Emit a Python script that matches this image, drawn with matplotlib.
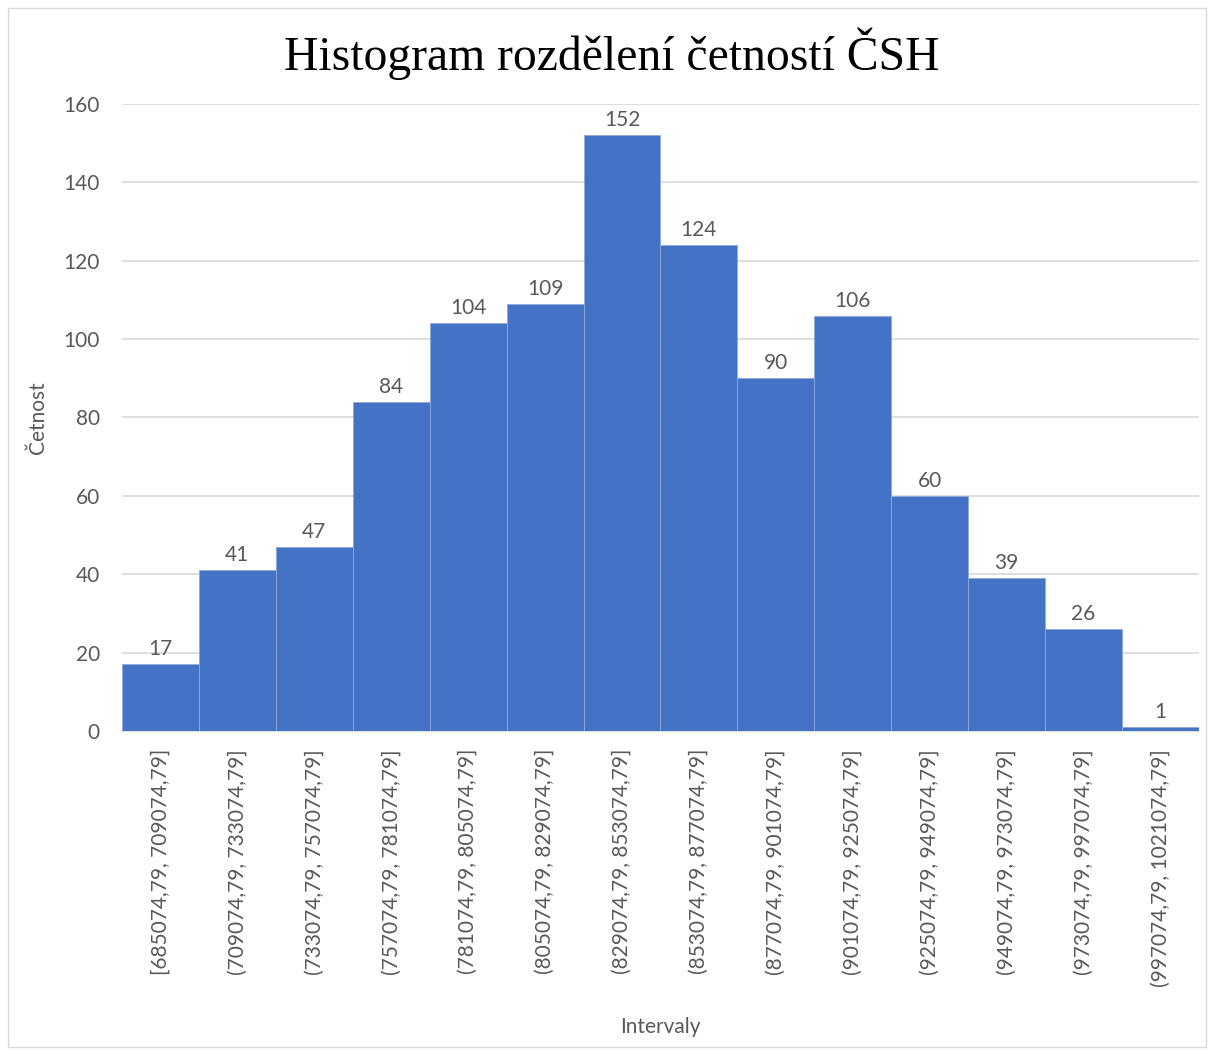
import matplotlib.pyplot as plt
from matplotlib.patches import Rectangle

# histogram bins and counts
intervals = [
    "[685074,79, 709074,79]", "(709074,79, 733074,79]", "(733074,79, 757074,79]",
    "(757074,79, 781074,79]", "(781074,79, 805074,79]", "(805074,79, 829074,79]",
    "(829074,79, 853074,79]", "(853074,79, 877074,79]", "(877074,79, 901074,79]",
    "(901074,79, 925074,79]", "(925074,79, 949074,79]", "(949074,79, 973074,79]",
    "(973074,79, 997074,79]", "(997074,79, 1021074,79]",
]
counts = [17, 41, 47, 84, 104, 109, 152, 124, 90, 106, 60, 39, 26, 1]
yticks = [0, 20, 40, 60, 80, 100, 120, 140, 160]

text_color = "#595959"
plt.rcParams['font.family'] = ['Lato', 'DejaVu Sans']

fig = plt.figure(figsize=(12.14, 10.54), dpi=100)
fig.patches.append(Rectangle((0.007, 0.007), 0.986, 0.985, transform=fig.transFigure,
                             fill=False, edgecolor="#D9D9D9", linewidth=1))

ax = fig.add_axes([0.1005, 0.3065, 0.8871, 0.5948])
x = range(len(counts))
bars = ax.bar(x, counts, width=1.0, color="#4472C4", edgecolor="#8EA9DB", linewidth=0.6, zorder=3)

for xi, c in zip(x, counts):
    ax.text(xi, c + 1.3, str(c), ha="center", va="bottom", fontsize=15, color=text_color)

ax.set_xlim(-0.5, len(counts) - 0.5)
ax.set_ylim(0, 160)
ax.set_yticks(yticks)
ax.yaxis.grid(True, color="#D9D9D9", linewidth=1.2, zorder=0)
ax.set_axisbelow(True)
for s in ["top", "right", "left"]:
    ax.spines[s].set_visible(False)
ax.spines["bottom"].set_color("#D9D9D9")
ax.spines["bottom"].set_linewidth(1.2)
ax.tick_params(axis="both", length=0, labelsize=15, labelcolor=text_color)
ax.tick_params(axis="y", pad=16)
ax.set_xticks(list(x))
ax.set_xticklabels(intervals, rotation=90, va="top", ha="center")
ax.tick_params(axis="x", pad=13)

ax.set_ylabel("Četnost", fontsize=15, color=text_color, labelpad=11)
ax.set_xlabel("Intervaly", fontsize=15, color=text_color, labelpad=22)

fig.text(0.504, 0.949, "Histogram rozdělení četností ČSH", ha="center", va="center",
         fontsize=34.3, family="Liberation Serif", color="black")

fig.savefig("out.png", dpi=100)
